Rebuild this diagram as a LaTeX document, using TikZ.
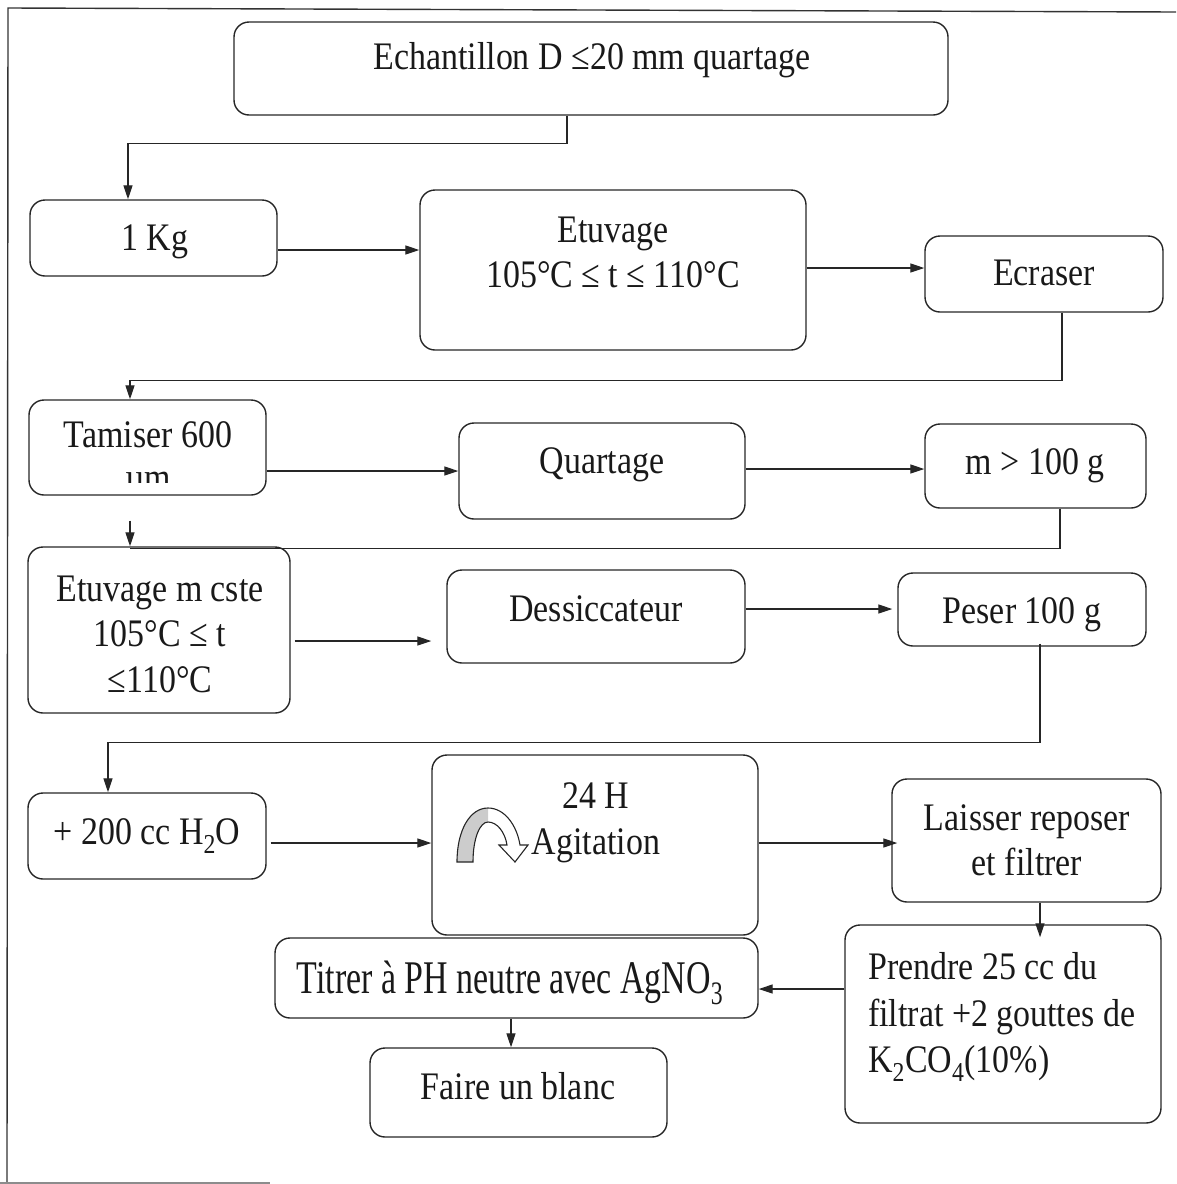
\documentclass[tikz,border=0pt]{standalone}
\usepackage{fontspec}
\usepackage{graphicx}
\setmainfont[FakeStretch=0.87]{Liberation Serif}
\usetikzlibrary{arrows.meta,calc}
\begin{document}
\begin{tikzpicture}[x=1pt,y=-1pt,
  box/.style={draw=black!85,line width=1.4pt,rounded corners=15pt,inner sep=0pt,fill=none},
  txt/.style={anchor=base,inner sep=0pt,text=black!90,font=\fontsize{39}{46}\selectfont},
  conn/.style={draw=black!85,line width=1.3pt},
  arr/.style={conn,-{Triangle[length=14pt,width=9pt]}}]
\useasboundingbox (0,0) rectangle (1176,1184);
% frame
\draw[black!80,line width=1.4pt] (1176,12) -- (8,8) -- (7,1182);
\draw[black!45,line width=1.2pt] (0,1183) -- (270,1183);
% boxes
\node[box,minimum width=714pt,minimum height=93pt] (b1) at (591,68.5) {};
\node[box,minimum width=247pt,minimum height=76pt] (b2) at (153.5,238) {};
\node[box,minimum width=386pt,minimum height=160pt] (b3) at (613,270) {};
\node[box,minimum width=238pt,minimum height=76pt] (b4) at (1044,274) {};
\node[box,minimum width=237pt,minimum height=95pt] (b5) at (147.5,447.5) {};
\node[box,minimum width=286pt,minimum height=96pt] (b6) at (602,471) {};
\node[box,minimum width=221pt,minimum height=84pt] (b7) at (1035.5,466) {};
\node[box,minimum width=262pt,minimum height=166pt] (b8) at (159,630) {};
\node[box,minimum width=298pt,minimum height=93pt] (b9) at (596,616.5) {};
\node[box,minimum width=248pt,minimum height=73pt] (b10) at (1022,609.5) {};
\node[box,minimum width=238pt,minimum height=86pt] (b11) at (147,836) {};
\node[box,minimum width=326pt,minimum height=180pt] (b12) at (595,845) {};
\node[box,minimum width=269pt,minimum height=123pt] (b13) at (1026.5,840.5) {};
\node[box,minimum width=316pt,minimum height=198pt] (b14) at (1003,1024) {};
\node[box,minimum width=483pt,minimum height=80pt] (b15) at (516.5,978) {};
\node[box,minimum width=297pt,minimum height=89pt] (b16) at (518.5,1092.5) {};
% texts
\node[txt] (t1) at (592,69) {Echantillon D ≤20 mm quartage};
\node[txt] (t2) at (155,250) {1 Kg};
\node[txt] (t3a) at (613,242) {Etuvage};
\node[txt] (t3b) at (613,287) {105°C ≤ t ≤ 110°C};
\node[txt] (t4) at (1044,285) {Ecraser};
\node[txt] (t5) at (148,447) {Tamiser 600};
\begin{scope}
\clip (29,400) rectangle (266,482);
\node[txt] (t5b) at (148,490) {µm};
\end{scope}
\node[txt] (t6) at (602,473) {Quartage};
\node[txt] (t7) at (1035,474) {m > 100 g};
\node[txt] (t8a) at (160,601) {Etuvage m cste};
\node[txt] (t8b) at (160,646) {105°C ≤ t};
\node[txt] (t8c) at (160,692) {≤110°C};
\node[txt] (t9) at (596,621) {Dessiccateur};
\node[txt] (t10) at (1022,623) {Peser 100 g};
\node[txt] (t11) at (147,844) {+ 200 cc H\textsubscript{2}O};
\node[txt] (t12a) at (596,808) {24 H};
\node[txt] (t12b) at (596,854) {Agitation};
\node[txt] (t13a) at (1027,830) {Laisser reposer};
\node[txt] (t13b) at (1027,875) {et filtrer};
\node[txt,anchor=base west] (t14a) at (868,979) {Prendre 25 cc du};
\node[txt,anchor=base west] (t14b) at (868,1026) {filtrat +2 gouttes de};
\node[txt,anchor=base west] (t14c) at (868,1072) {K\textsubscript{2}CO\textsubscript{4}(10\%)};
\node[txt] (t15) at (510,993) {\scalebox{1}[1.2]{Titrer à PH neutre avec AgNO\textsubscript{3}}};
\node[txt] (t16) at (518,1099) {Faire un blanc};
% agitation icon
\begin{scope}
\clip (440,800) rectangle (489,870);
\fill[gray!40] (457,862) .. controls (457,830) and (470,808) .. (488,808)
  -- (488,822) .. controls (480,822) and (473,838) .. (473,862) -- cycle;
\end{scope}
\draw[black!85,line width=1.1pt,line join=miter] (457,862) .. controls (457,830) and (470,808) .. (488,808)
  .. controls (505,808) and (517,826) .. (520,845) -- (528,845) -- (515,862) -- (499,845) -- (507,845)
  .. controls (505,832) and (497,822) .. (488,822) .. controls (480,822) and (473,838) .. (473,862) -- cycle;
% connectors
\draw[arr] ([xshift=-24pt]b1.south) -- ++(0,28) -| ([xshift=-25.5pt]b2.north);
\path ([yshift=-12pt]b2.east) coordinate (c2);
\draw[arr] (c2) -- (c2 -| b3.west);
\path ([yshift=2pt]b3.east) coordinate (c3);
\draw[arr] (c3) -- (c3 -| b4.west);
\draw[arr] ([xshift=18pt]b4.south) -- ++(0,68) -| ([xshift=-17.5pt]b5.north);
\path ([yshift=-23.5pt]b5.east) coordinate (c5);
\draw[arr] (c5) -- (c5 -| b6.west);
\path ([yshift=2pt]b6.east) coordinate (c6);
\draw[arr] (c6) -- (c6 -| b7.west);
\coordinate (j7) at ([xshift=-29pt]b8.north);
\draw[conn] ([xshift=24.5pt]b7.south) |- ([yshift=-2pt]j7);
\draw[arr] ([xshift=-17.5pt,yshift=-25pt]b5.south) -- (j7);
\path ([xshift=4pt,yshift=-11pt]b8.east) coordinate (c8);
\draw[arr] (c8) -- ([xshift=-15pt]c8 -| b9.west);
\path ([yshift=7.5pt]b9.east) coordinate (c9);
\draw[arr] (c9) -- ([xshift=-5pt]c9 -| b10.west);
\draw[arr] ([xshift=18pt,yshift=3pt]b10.south) -- ++(0,99) -| ([xshift=-39pt]b11.north);
\path ([xshift=4pt,yshift=-7pt]b11.east) coordinate (c11);
\draw[arr] (c11) -- (c11 -| b12.west);
\path ([yshift=2pt]b12.east) coordinate (c12);
\draw[arr] (c12) -- ([xshift=6pt]c12 -| b13.west);
\draw[arr] ([xshift=13.5pt]b13.south) -- ([xshift=37pt,yshift=-13pt]b14.north);
\path ([yshift=35pt]b14.west) coordinate (c14);
\draw[arr] (c14) -- (c14 -| b15.east);
\draw[arr] ([xshift=-5.5pt]b15.south) -- ([xshift=-7.5pt]b16.north);
\end{tikzpicture}
\end{document}
